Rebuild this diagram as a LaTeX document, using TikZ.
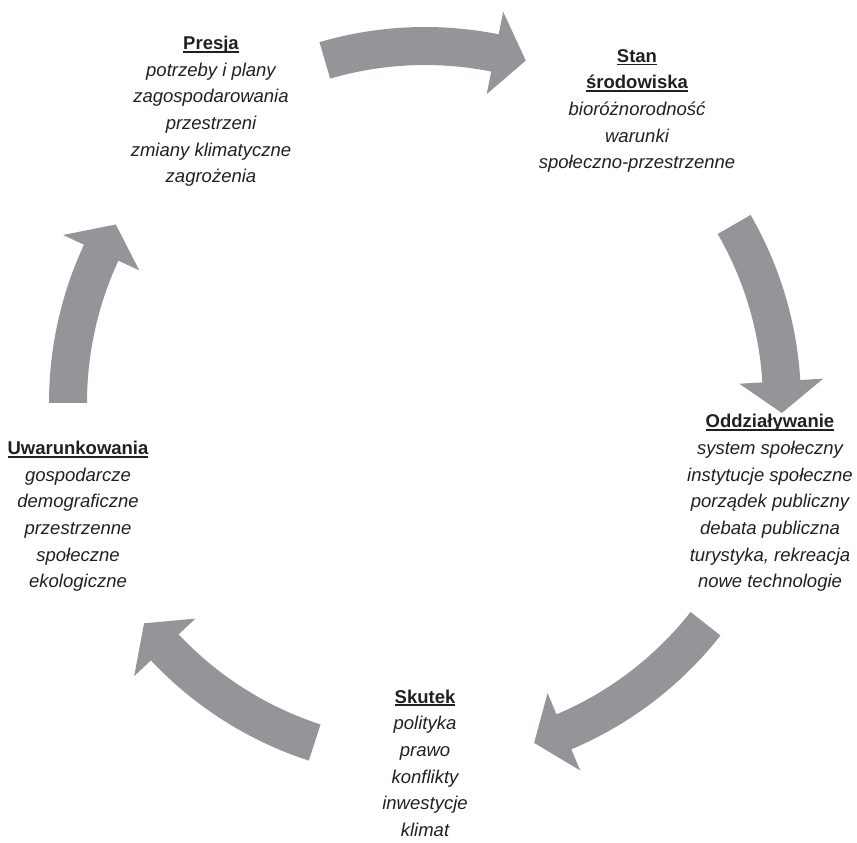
\documentclass[tikz,border=0pt]{standalone}
\usepackage{fontspec}
\setmainfont{Liberation Sans}
\usetikzlibrary{positioning}

\definecolor{arrowgray}{RGB}{147,149,152}
\definecolor{txt}{RGB}{35,31,32}

% underlined bold heading
\newcommand{\hd}[1]{\textbf{\setbox0\hbox{#1}\rlap{\rule[-3.3pt]{\wd0}{1.9pt}}\box0}}

\begin{document}
\begin{tikzpicture}[x=1pt, y=1pt,
    block/.style={align=center, anchor=base, inner sep=0pt, text=txt,
                  font=\fontsize{18.5}{26.7}\selectfont},
    band/.style={fill=arrowgray, draw=none}]
            \useasboundingbox (-425,-440) rectangle (432,403);

            % Texts (placed by the baseline of their last line)
            \node[block] (presja) at (-214,220) {\hd{Presja}\\\itshape potrzeby i plany\\\itshape zagospodarowania\\\itshape przestrzeni\\\itshape zmiany klimatyczne\\\itshape zagrożenia};
            \node[block] (stan) at (212,234) {\hd{Stan}\\\hd{środowiska}\\\itshape bioróżnorodność\\\itshape warunki\\\itshape społeczno-przestrzenne};
            \node[block] (oddz) at (345,-185) {\hd{Oddziaływanie}\\\itshape system społeczny\\\itshape instytucje społeczne\\\itshape porządek publiczny\\\itshape debata publiczna\\\itshape turystyka, rekreacja\\\itshape nowe technologie};
            \node[block] (skutek) at (0,-433.5) {\hd{Skutek}\\\itshape polityka\\\itshape prawo\\\itshape konflikty\\\itshape inwestycje\\\itshape klimat};
            \node[block] (uwar) at (-347,-185) {\hd{Uwarunkowania}\\\itshape gospodarcze\\\itshape demograficzne\\\itshape przestrzenne\\\itshape społeczne\\\itshape ekologiczne};

            % Arrows round the cycle (tail angle / tip angle)
            \foreach \a/\t in {106.3/73.6, 30/-1.6, -38.2/-72.2, -108/-141.9, 180/150} {
                \pgfmathsetmacro{\n}{\t+5.1}
                \fill[band] (\a:376) arc[start angle=\a, end angle=\n, radius=376]
                    -- (\n:399) -- (\t:357) -- (\n:315) -- (\n:338)
                    arc[start angle=\n, end angle=\a, radius=338] -- cycle;
            }
        \end{tikzpicture}
\end{document}
